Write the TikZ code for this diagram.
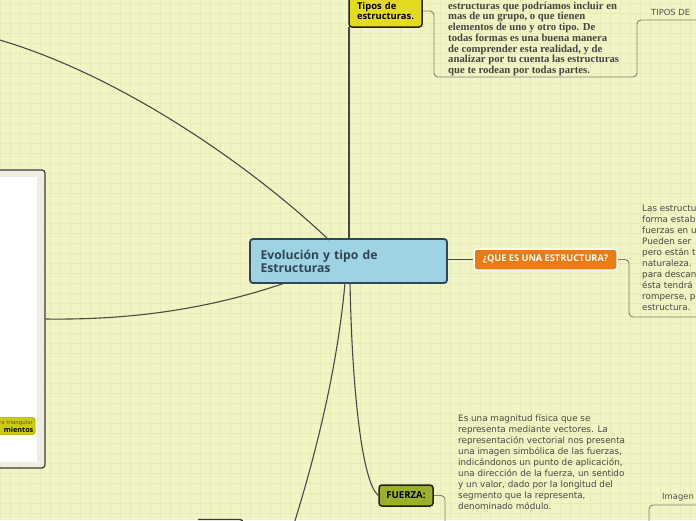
\documentclass[tikz,border=0pt]{standalone}
\usepackage{fontspec}
\setmainfont{DejaVu Sans}
\newfontfamily\osans{Open Sans}
\newfontfamily\serifb{Liberation Serif}
\definecolor{bg}{RGB}{242,244,196}
\definecolor{gridc}{RGB}{232,235,184}
\definecolor{linedark}{RGB}{72,72,72}
\definecolor{bracketc}{RGB}{128,128,116}
\definecolor{centralfill}{RGB}{157,211,227}
\definecolor{centraldraw}{RGB}{44,72,88}
\definecolor{centraltext}{RGB}{48,68,84}
\definecolor{tiposfill}{RGB}{228,218,30}
\definecolor{orangefill}{RGB}{238,122,18}
\definecolor{fuerzafill}{RGB}{155,176,40}
\definecolor{nodedraw}{RGB}{34,34,20}
\definecolor{bodytext}{RGB}{72,72,72}
\definecolor{paneledge}{RGB}{60,60,60}
\definecolor{panelfill}{RGB}{240,238,226}
\definecolor{tagfill}{RGB}{204,204,10}
\tikzset{
  conn/.style={draw=linedark, line width=1.1pt},
  bracket/.style={draw=bracketc, line width=0.9pt, rounded corners=4pt},
  topic/.style={rounded corners=3pt, line width=1.5pt, inner sep=0pt},
  bodyfont/.style={font=\fontsize{8.8}{11}\selectfont, text=bodytext, inner sep=0pt, align=left},
}
\begin{document}
\begin{tikzpicture}[x=1pt,y=-1pt]
\useasboundingbox (0,0) rectangle (696,520);
\clip (0,0) rectangle (696,520);
\fill[bg] (0,0) rectangle (696,520);
\foreach \gx in {0,10,...,690} \draw[gridc, line width=0.7pt] (\gx,0) -- (\gx,520);
\foreach \gy in {3,13,...,513} \draw[gridc, line width=0.7pt] (0,\gy) -- (696,\gy);

% left panel
\node[draw=paneledge, fill=panelfill, line width=1.2pt, rounded corners=3pt,
      minimum width=60pt, minimum height=298pt, inner sep=0pt] (panel) at (15,319) {};
\fill[white] (-15,177) rectangle (37,462);
\node[fill=tagfill, draw={rgb,255:red,160;green,160;blue,0}, line width=0.5pt, rounded corners=2.5pt,
      minimum width=48pt, minimum height=17pt, inner sep=0pt] (tag) at (11,426) {};
\node[anchor=base east, inner sep=0pt, font=\fontsize{5.4}{6}\selectfont, text={rgb,255:red,90;green,90;blue,60}] (tagA) at (33,424) {ra triangular};
\node[anchor=base east, inner sep=0pt, font=\osans\bfseries\fontsize{7.2}{8}\selectfont, text=black] (tagB) at (33.5,432) {mientos};

% bottom-left cut node
\draw[draw=paneledge, line width=1.4pt, rounded corners=3pt] (198,519.5) -- (243,519.5) -- (243,540);

% central node
\node[topic, fill=centralfill, draw=centraldraw, line width=1.8pt, minimum width=197pt, minimum height=44pt,
      text width=176pt, align=left, font=\osans\bfseries\fontsize{12.2}{13}\selectfont, text=centraltext]
      (central) at (348.5,261) {Evolución y tipo de\\Estructuras};

% Tipos de estructuras
\node[topic, fill=tiposfill, draw=nodedraw, minimum width=73pt, minimum height=32pt,
      text width=57pt, align=left, font=\osans\bfseries\fontsize{9.4}{10}\selectfont, text=black]
      (tipos) at (385.5,11) {Tipos de\\estructuras.};
\coordinate (t1) at (349,27);
\draw[conn] (t1) -- (t1 |- central.north);

% serif text block
\node[anchor=north west, inner sep=0pt, align=left, font=\serifb\bfseries\fontsize{10.7}{10.75}\selectfont, text={rgb,255:red,68;green,68;blue,68}]
  (tiposText) at (448,1.5) {estructuras que podríamos incluir en\\mas de un grupo, o que tienen\\elementos de uno y otro tipo. De\\todas formas es una buena manera\\de comprender esta realidad, y de\\analizar por tu cuenta las estructuras\\que te rodean por todas partes.};
\coordinate (tiposEnd) at (700,20);
\draw[bracket] (tipos.east) -- (434,11) -- (434,77) -- (637,77) -- (637,20) -- (tiposEnd);
\node[anchor=base west, inner sep=0pt, font=\fontsize{8.4}{10}\selectfont, text={rgb,255:red,80;green,80;blue,80}] (tiposDe) at (651,15) {TIPOS DE};

% QUE ES UNA ESTRUCTURA
\node[topic, fill=orangefill, draw=white, minimum width=143pt, minimum height=21pt,
      font=\osans\bfseries\fontsize{9.2}{10}\selectfont, text=white] (que) at (545.5,259.5) {¿QUE ES UNA ESTRUCTURA?};
\draw[conn] (central.east |- que.west) -- (que.west);
\coordinate (queEnd) at (700,317);
\draw[bracket] (que.east) -- (629,259.5) -- (629,317) -- (queEnd);
\node[bodyfont, anchor=north west] (queText) at (642,205) {Las estructu\\forma estab\\fuerzas en u\\Pueden ser\\pero están t\\naturaleza.\\para descan\\ésta tendrá\\romperse, p\\estructura.};

% FUERZA
\node[topic, fill=fuerzafill, draw=nodedraw, minimum width=54pt, minimum height=21pt,
      font=\osans\bfseries\fontsize{9.6}{10}\selectfont, text=black] (fuerza) at (406,495.5) {FUERZA:};
\draw[conn] (350,282) .. controls (352,390) and (362,482) .. (fuerza.west);
\coordinate (fuerzaEnd) at (445,525);
\draw[bracket] (fuerza.east) -- (445,495.5) -- (fuerzaEnd);
\node[bodyfont, anchor=north west] (fuerzaText) at (458,414) {Es una magnitud física que se\\representa mediante vectores. La\\representación vectorial nos presenta\\una imagen simbólica de las fuerzas,\\indicándonos un punto de aplicación,\\una dirección de la fuerza, un sentido\\y un valor, dado por la longitud del\\segmento que la representa,\\denominado módulo.};

% Imagen
\node[anchor=base west, inner sep=0pt, font=\fontsize{8.4}{10}\selectfont, text={rgb,255:red,80;green,80;blue,80}] (imagen) at (662,499) {Imagen};
\coordinate (imA) at (649,525);
\coordinate (imB) at (700,505);
\draw[bracket] (imA) -- (649,505) -- (imB);

% left curves
\coordinate (tl) at (-2,39.5);
\draw[conn] (tl) .. controls (120,75) and (250,165) .. (329,240);
\draw[conn] (285,283) .. controls (200,312) and (120,320) .. (panel.east);
\coordinate (bl) at (294,524);
\draw[conn] (345,283) .. controls (338,360) and (320,440) .. (bl);
\end{tikzpicture}
\end{document}
